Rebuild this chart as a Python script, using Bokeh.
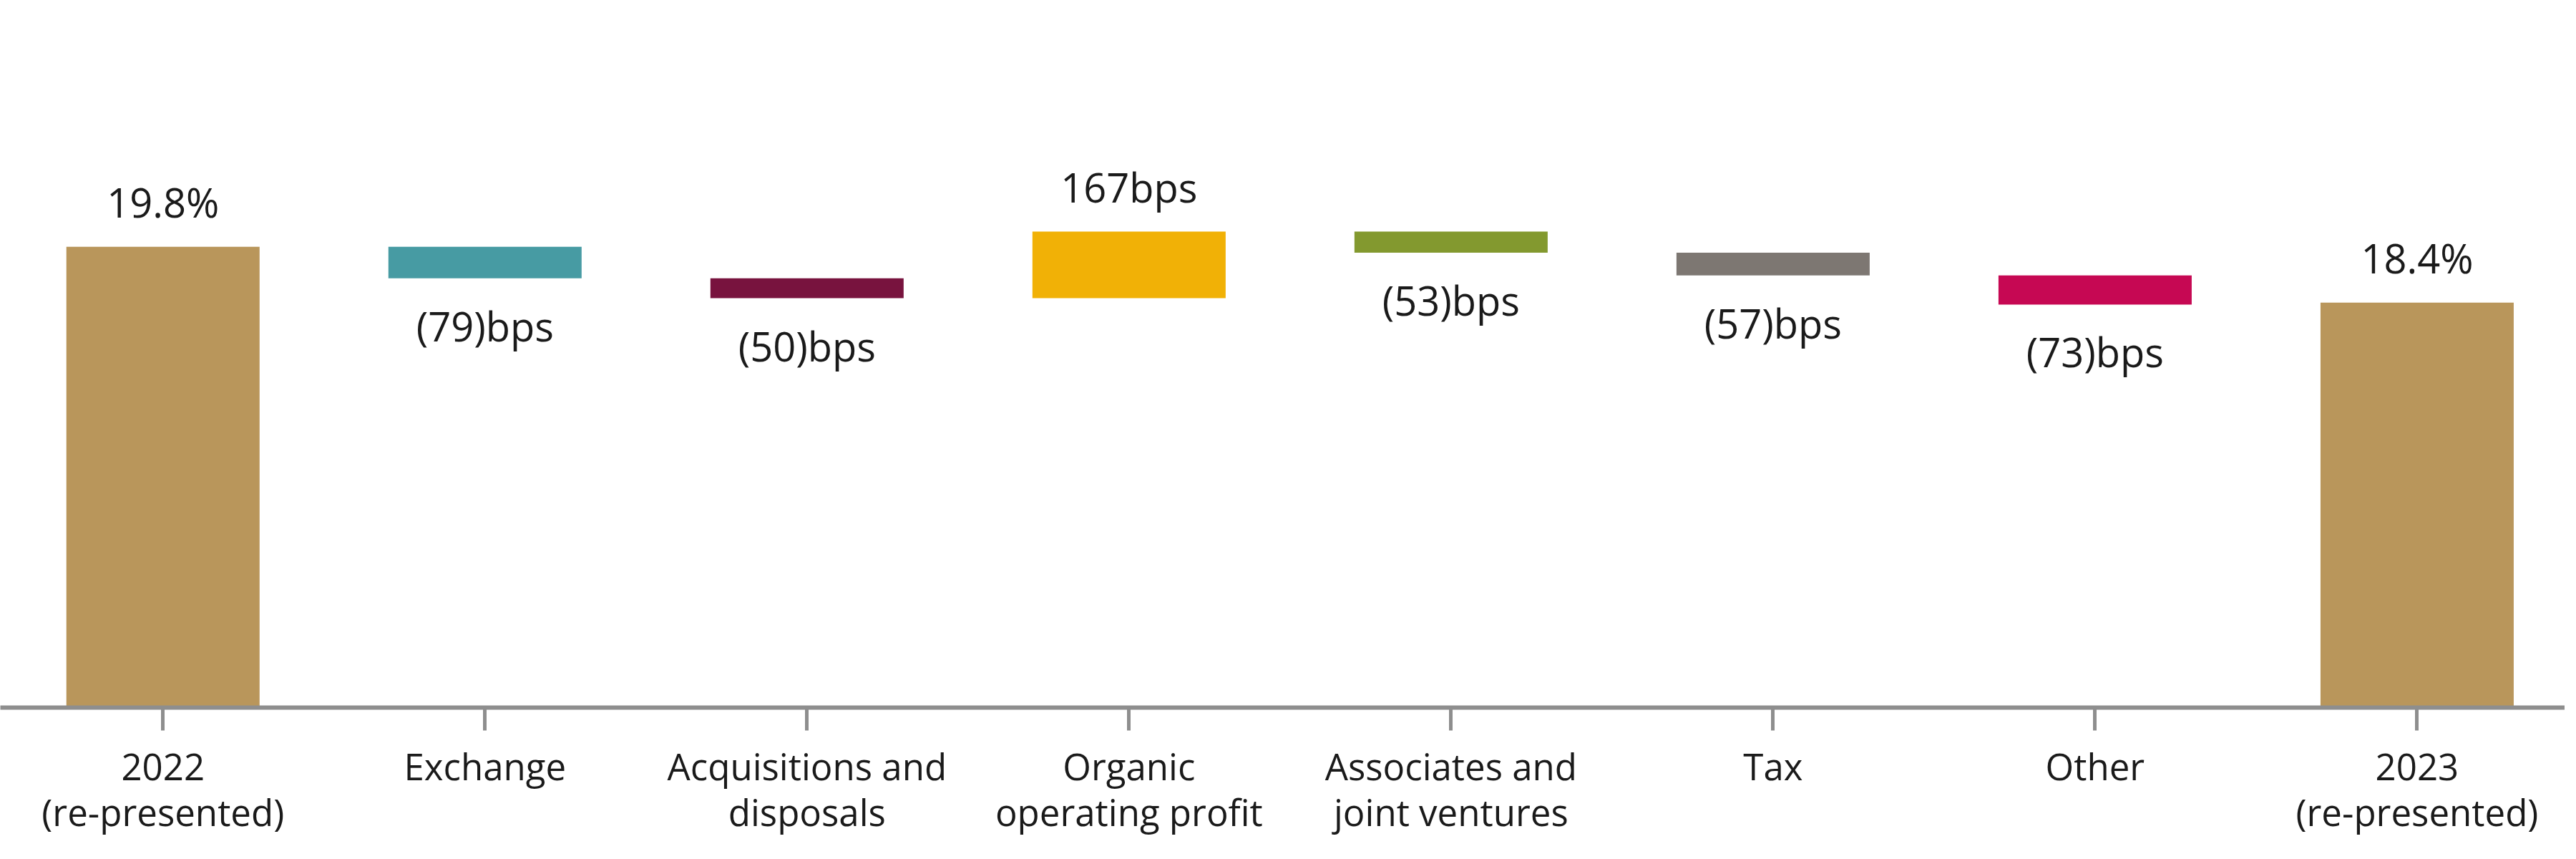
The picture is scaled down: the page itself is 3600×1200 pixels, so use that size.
from bokeh.plotting import figure
from bokeh.models import Range1d, FixedTicker, ColumnDataSource
from bokeh.core.properties import value
from bokeh.embed import file_html
from bokeh.resources import INLINE

# ---- data ----
categories = ["2022\n(re-presented)", "Exchange", "Acquisitions and\ndisposals",
              "Organic\noperating profit", "Associates and\njoint ventures", "Tax",
              "Other", "2023\n(re-presented)"]
start_value = 19.8          # %
end_value = 18.4            # %
changes_bps = [-79, -50, 167, -53, -57, -73]
value_labels = ["19.8%", "(79)bps", "(50)bps", "167bps", "(53)bps", "(57)bps", "(73)bps", "18.4%"]
colors = ["#B9965B", "#479BA3", "#78133E", "#F1B106", "#83992F", "#7D7772", "#C60853", "#B9965B"]

AXIS_BASE = 8.24  # value where the (truncated) axis line sits

# ---- waterfall geometry from data ----
bottoms, tops = [AXIS_BASE], [start_value]
level = start_value
for c in changes_bps:
    new = level + c / 100.0
    bottoms.append(min(level, new))
    tops.append(max(level, new))
    level = new
bottoms.append(AXIS_BASE)
tops.append(end_value)

xs = list(range(len(categories)))
label_y, label_off = [], []
for i in xs:
    if i == 0 or i == len(xs) - 1:
        label_y.append(tops[i]); label_off.append(-63)
    else:
        c = changes_bps[i - 1]
        if c >= 0:
            label_y.append(tops[i]); label_off.append(-63)
        else:
            label_y.append(bottoms[i]); label_off.append(66)

src = ColumnDataSource(dict(x=xs, bottom=bottoms, top=tops, color=colors,
                            ly=label_y, loff=label_off, lab=value_labels))

p = figure(width=3584, height=1184, output_backend="svg", toolbar_location=None,
           x_range=Range1d(-0.505, 7.459), y_range=Range1d(AXIS_BASE, 25.8),
           min_border_left=0, min_border_right=0, min_border_top=10, min_border_bottom=196)
p.outline_line_color = None
p.background_fill_color = "white"
p.border_fill_color = "white"
p.grid.visible = False
p.yaxis.visible = False

p.vbar(x="x", width=0.6, bottom="bottom", top="top", fill_color="color",
       line_color=None, source=src)

p.text(x="x", y="ly", text="lab", y_offset="loff", source=src,
       text_align="center", text_baseline="alphabetic",
       text_font=value("Open Sans"), text_font_size="56px", text_color="#1a1a1a")

ax = p.xaxis[0]
ax.ticker = FixedTicker(ticks=xs)
ax.major_label_overrides = {i: c for i, c in enumerate(categories)}
ax.axis_line_color = "#8e8e8e"
ax.axis_line_width = 6
ax.major_tick_line_color = "#8e8e8e"
ax.major_tick_line_width = 5
ax.major_tick_out = 32
ax.major_tick_in = 0
ax.minor_tick_line_color = None
ax.major_label_standoff = 14
ax.major_label_text_font = "Open Sans"
ax.major_label_text_font_size = "51px"
ax.major_label_text_color = "#1a1a1a"
ax.major_label_text_line_height = 0.92

open("out.html", "w").write(file_html(p, INLINE))
